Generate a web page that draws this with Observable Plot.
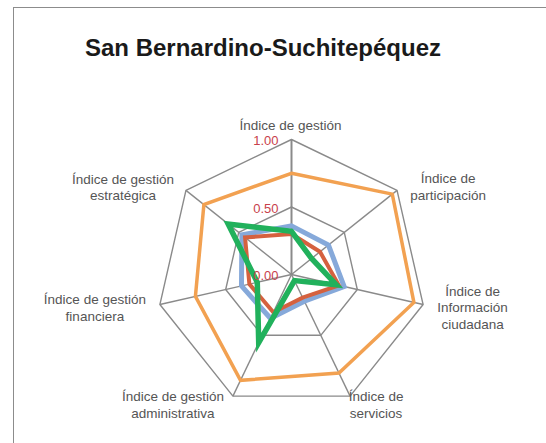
<!DOCTYPE html>
<html>
<head>
<meta charset="utf-8">
<script src="https://cdn.jsdelivr.net/npm/d3@7"></script>
<script src="https://cdn.jsdelivr.net/npm/@observablehq/plot@0.6"></script>
<style>
  html, body { margin: 0; padding: 0; background: #fff; }
  #wrap { position: relative; width: 546px; height: 443px; overflow: hidden; background: #fff; }
  #frame { position: absolute; left: 13px; top: 7px; width: 600px; height: 500px;
           border-left: 1.5px solid #8c8c8c; border-top: 1.5px solid #8c8c8c; }
  #title { position: absolute; left: 0; top: 36px; width: 526px; text-align: center;
           font-family: "Liberation Sans", Arial, sans-serif; font-weight: bold;
           font-size: 24px; line-height: 24px; color: #1a1a1a; }
  #chart { position: absolute; left: 0; top: 0; }
</style>
</head>
<body>
<div id="wrap">
  <div id="frame"></div>
  <div id="chart"></div>
  <div id="title">San Bernardino-Suchitepéquez</div>
</div>
<script>
// ---- data ----
const categories = [
  "Índice de gestión",
  "Índice de\nparticipación",
  "Índice de\nInformación\nciudadana",
  "Índice de\nservicios",
  "Índice de gestión\nadministrativa",
  "Índice de gestión\nfinanciera",
  "Índice de gestión\nestratégica"
];
const seriesNames = ["Serie 1", "Serie 2", "Serie 3", "Serie 4"];
const orangeValues = [0.75, 0.955, 0.93, 0.81, 0.87, 0.73, 0.83];
const blueValues   = [0.36, 0.35, 0.40, 0.22, 0.36, 0.38, 0.47];
const redValues    = [0.30, 0.27, 0.36, 0.19, 0.31, 0.32, 0.44];
const greenValues  = [0.32, 0.19, 0.34, 0.05, 0.56, 0.26, 0.60];
const tickValues = [0, 0.5, 1];
const gridRings = [0.5, 1];

// ---- layout helpers (not data) ----
const PX = 135; // pixels per unit radius
const cx = 291, cy = 274, W = 546, H = 443;
const labelNudge = [[-1, -14.5], [51, -4], [49.5, 2.5], [26, 8], [-60, 8], [-65, 2.7], [-63, -3.6]];
const n = categories.length;
const ang = i => i * 2 * Math.PI / n;
const px = (i, r) => r * Math.sin(ang(i));
const py = (i, r) => r * Math.cos(ang(i));

const series = [
  {name: seriesNames[0], values: orangeValues, color: "#f2a151", w: 3.5},
  {name: seriesNames[1], values: blueValues,   color: "#86a9da", w: 5},
  {name: seriesNames[2], values: redValues,    color: "#d5613f", w: 4},
  {name: seriesNames[3], values: greenValues,  color: "#21b15c", w: 5.5}
];

const ringRows = gridRings.flatMap(r => categories.map((c, i) => ({r, x: px(i, r), y: py(i, r)})));
const spokeRows = categories.map((c, i) => ({i, x: px(i, 1), y: py(i, 1)}));
const labelRows = categories.map((c, i) => ({
  text: c,
  x: px(i, 1) + labelNudge[i][0] / PX,
  y: py(i, 1) - labelNudge[i][1] / PX
}));

const seriesMarks = series.map(s => Plot.line(
  s.values.map((v, i) => ({x: px(i, v), y: py(i, v)})),
  {x: "x", y: "y", curve: "linear-closed", stroke: s.color, strokeWidth: s.w, strokeLinejoin: "miter", strokeMiterlimit: 4}
));

const chart = Plot.plot({
  width: W, height: H, margin: 0,
  style: {background: "transparent"},
  x: {domain: [-cx / PX, (W - cx) / PX], axis: null},
  y: {domain: [-(H - cy) / PX, cy / PX], axis: null},
  marks: [
    Plot.line(ringRows, {x: "x", y: "y", z: "r", curve: "linear-closed", stroke: "#8a8a8a", strokeWidth: 1.4}),
    Plot.link(spokeRows, {x1: 0, y1: 0, x2: "x", y2: "y", stroke: "#8a8a8a", strokeWidth: d => d.i === 0 ? 2 : 1.4}),
    ...seriesMarks,
    Plot.text(tickValues, {x: 0, y: d => d, text: d => d.toFixed(2), textAnchor: "end", dx: -13, dy: 1.5,
      fill: "#c8414b", fontSize: 13, fontFamily: "Liberation Sans, Arial, sans-serif"}),
    Plot.text(labelRows, {x: "x", y: "y", text: "text", textAnchor: "middle", lineAnchor: "middle",
      lineHeight: 1.22, fill: "#555", fontSize: 13.5, fontFamily: "Liberation Sans, Arial, sans-serif"})
  ]
});
document.getElementById("chart").appendChild(chart);
</script>
</body>
</html>
